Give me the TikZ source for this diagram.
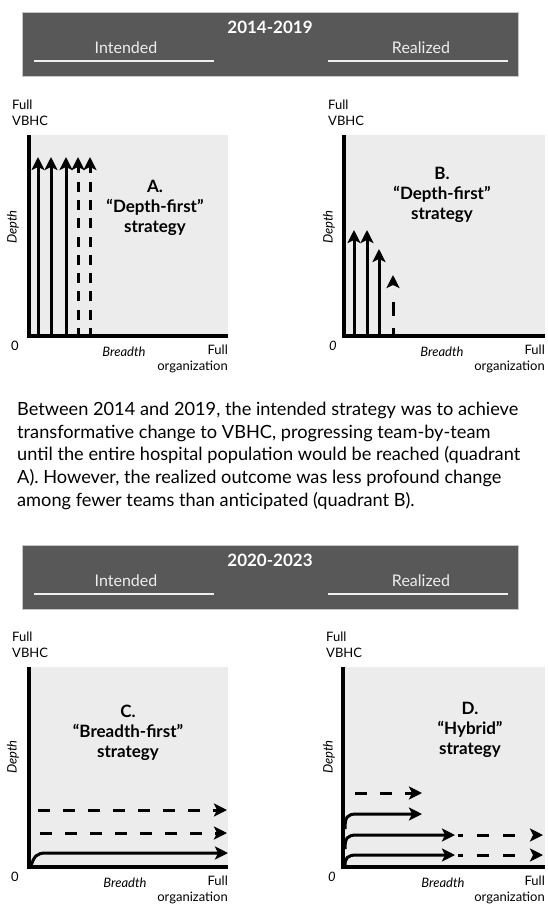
\documentclass[tikz,border=0pt]{standalone}
\usepackage{fontspec}
\setmainfont{Lato}
\usetikzlibrary{arrows.meta}
\definecolor{hdrgray}{HTML}{585858}
\definecolor{panelgray}{HTML}{ECECEC}
\definecolor{rulewhite}{HTML}{EEEEEE}
\begin{document}
\begin{tikzpicture}[x=1pt,y=-1pt,
  hdrbox/.style={fill=hdrgray, draw=gray!45, line width=0.6pt},
  hdrtitle/.style={text=white, font=\bfseries\fontsize{17}{20}\selectfont, inner sep=0pt},
  hdrlabel/.style={text=rulewhite, font=\fontsize{16}{19}\selectfont, inner sep=0pt},
  hdrrule/.style={draw=rulewhite, line width=2pt},
  panel/.style={fill=panelgray},
  axisline/.style={line width=4.5pt, line cap=butt, line join=miter},
  flow/.style={line width=3pt, -{Stealth[length=13pt,width=13pt,inset=3pt]}},
  vdash/.style={flow, dash pattern=on 10pt off 8.3pt, dash phase=4pt},
  hdash/.style={flow, dash pattern=on 12pt off 13pt},
  small/.style={font=\fontsize{13}{16}\selectfont, inner sep=0pt},
  smallit/.style={font=\itshape\fontsize{13}{16}\selectfont, inner sep=0pt},
  qtitle/.style={font=\bfseries\fontsize{17}{20}\selectfont, align=center, inner sep=0pt},
  body/.style={font=\fontsize{18.2}{22.6}\selectfont, align=left, inner sep=0pt}
]
\useasboundingbox (0,0) rectangle (547,906);

% ---------- header 2014-2019 ----------
\path[hdrbox] (22,12) rectangle (518,76);
\node[hdrtitle] (h1t) at (270,27) {2014-2019};
\node[hdrlabel] (h1i) at (126,48) {Intended};
\node[hdrlabel] (h1r) at (421,48) {Realized};
\coordinate (h1ia) at (34,61);  \coordinate (h1ib) at (214,61);
\coordinate (h1ra) at (328,61); \coordinate (h1rb) at (508,61);
\draw[hdrrule] (h1ia) -- (h1ib);
\draw[hdrrule] (h1ra) -- (h1rb);

% ---------- quadrant A ----------
\fill[panel] (29,135) rectangle (228,336);
\coordinate (Ay) at (29,135); \coordinate (Ao) at (29,336); \coordinate (Ax) at (228,336);
\draw[axisline] (Ay) -- (Ao) -- (Ax);
\foreach \i/\xx in {1/38,2/51,3/66} {
  \coordinate (Ab\i) at (\xx,334); \coordinate (At\i) at (\xx,157);
  \draw[flow] (Ab\i) -- (At\i);
}
\foreach \i/\xx in {4/78,5/90} {
  \coordinate (Ab\i) at (\xx,334); \coordinate (At\i) at (\xx,157);
  \draw[vdash] (Ab\i) -- (At\i);
}
\node[qtitle] (Aq) at (155,208) {A.\\“Depth-first”\\strategy};
\node[small, align=left, anchor=north west] (Afull) at (12,100) {Full\\VBHC};
\node[small] (Azero) at (15,346) {0};
\node[smallit, rotate=90] (Adepth) at (13,227) {Depth};
\node[smallit] (Abreadth) at (124,352) {Breadth};
\node[small, align=right, anchor=north east] (Aorg) at (228,345) {Full\\organization};

% ---------- quadrant B ----------
\fill[panel] (344,135) rectangle (545,336);
\coordinate (By) at (344,135); \coordinate (Bo) at (344,336); \coordinate (Bx) at (545,336);
\draw[axisline] (By) -- (Bo) -- (Bx);
\foreach \i/\xx/\yy in {1/354/230,2/367/230,3/379/249} {
  \coordinate (Bb\i) at (\xx,334); \coordinate (Bt\i) at (\xx,\yy);
  \draw[flow] (Bb\i) -- (Bt\i);
}
\coordinate (Bb4) at (393,334); \coordinate (Bt4) at (393,275);
\draw[flow, dash pattern=on 6pt off 12pt on 14pt off 40pt] (Bb4) -- (Bt4);
\node[qtitle] (Bq) at (442,195) {B.\\“Depth-first”\\strategy};
\node[small, align=left, anchor=north west] (Bfull) at (328,100) {Full\\VBHC};
\node[smallit] (Bzero) at (333,346) {0};
\node[smallit, rotate=90] (Bdepth) at (329,227) {Depth};
\node[smallit] (Bbreadth) at (442,352) {Breadth};
\node[small, align=right, anchor=north east] (Borg) at (545,345) {Full\\organization};

% ---------- summary text ----------
\node[body, anchor=north west] (summary) at (17,402) {Between 2014 and 2019, the intended strategy was to achieve\\
transformative change to VBHC, progressing team-by-team\\
until the entire hospital population would be reached (quadrant\\
A). However, the realized outcome was less profound change\\
among fewer teams than anticipated (quadrant B).};

% ---------- header 2020-2023 ----------
\path[hdrbox] (22,545) rectangle (518,609);
\node[hdrtitle] (h2t) at (270,560) {2020-2023};
\node[hdrlabel] (h2i) at (126,581) {Intended};
\node[hdrlabel] (h2r) at (421,581) {Realized};
\coordinate (h2ia) at (34,594);  \coordinate (h2ib) at (214,594);
\coordinate (h2ra) at (328,594); \coordinate (h2rb) at (508,594);
\draw[hdrrule] (h2ia) -- (h2ib);
\draw[hdrrule] (h2ra) -- (h2rb);

% ---------- quadrant C ----------
\fill[panel] (29,667) rectangle (228,867);
\coordinate (Cy) at (29,667); \coordinate (Co) at (29,867); \coordinate (Cx) at (228,867);
\draw[axisline] (Cy) -- (Co) -- (Cx);
\coordinate (Cs1) at (38,810); \coordinate (Ce1) at (227,810);
\coordinate (Cs2) at (40,833); \coordinate (Ce2) at (227,833);
\draw[hdash] (Cs1) -- (Ce1);
\draw[hdash] (Cs2) -- (Ce2);
\coordinate (Cs3) at (31,866); \coordinate (Ck3) at (46,853); \coordinate (Ce3) at (228,853);
\draw[flow] (Cs3) .. controls (34,856) and (37,853) .. (Ck3) -- (Ce3);
\node[qtitle] (Cq) at (128,733) {C.\\“Breadth-first”\\strategy};
\node[small, align=left, anchor=north west] (Cfull) at (12,632) {Full\\VBHC};
\node[small] (Czero) at (15,877) {0};
\node[smallit, rotate=90] (Cdepth) at (13,757) {Depth};
\node[smallit] (Cbreadth) at (125,883) {Breadth};
\node[small, align=right, anchor=north east] (Corg) at (228,876) {Full\\organization};

% ---------- quadrant D ----------
\fill[panel] (343,667) rectangle (545,867);
\coordinate (Dy) at (343,667); \coordinate (Do) at (343,867); \coordinate (Dx) at (545,867);
\draw[axisline] (Dy) -- (Do) -- (Dx);
\coordinate (Ds1) at (355,793); \coordinate (De1) at (422,793);
\draw[hdash] (Ds1) -- (De1);
\coordinate (Ds2) at (345,829); \coordinate (Dk2) at (357,814); \coordinate (De2) at (422,814);
\draw[flow] (Ds2) .. controls (345,817) and (347,814) .. (Dk2) -- (De2);
\coordinate (Ds3) at (345,849); \coordinate (Dk3) at (357,835); \coordinate (De3) at (455,835);
\draw[flow] (Ds3) .. controls (345,838) and (347,835) .. (Dk3) -- (De3);
\coordinate (Ds4) at (345,866); \coordinate (Dk4) at (357,855); \coordinate (De4) at (455,855);
\draw[flow] (Ds4) .. controls (345,858) and (347,855) .. (Dk4) -- (De4);
\coordinate (Dx3) at (458,835); \coordinate (Df3) at (543,835);
\coordinate (Dx4) at (458,855); \coordinate (Df4) at (543,855);
\draw[flow, dash pattern=on 5pt off 14pt on 12pt off 14pt on 12pt off 40pt] (Dx3) -- (Df3);
\draw[flow, dash pattern=on 5pt off 14pt on 12pt off 14pt on 12pt off 40pt] (Dx4) -- (Df4);
\node[qtitle] (Dq) at (470,730) {D.\\“Hybrid”\\strategy};
\node[small, align=left, anchor=north west] (Dfull) at (326,632) {Full\\VBHC};
\node[smallit] (Dzero) at (332,877) {0};
\node[smallit, rotate=90] (Ddepth) at (329,757) {Depth};
\node[smallit] (Dbreadth) at (443,883) {Breadth};
\node[small, align=right, anchor=north east] (Dorg) at (545,876) {Full\\organization};
\end{tikzpicture}
\end{document}
